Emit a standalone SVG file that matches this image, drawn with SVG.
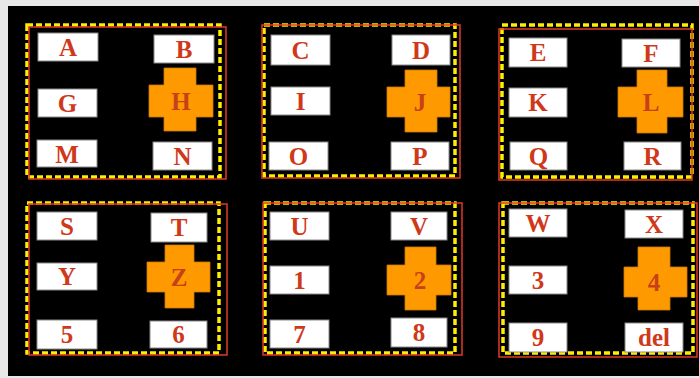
<svg xmlns="http://www.w3.org/2000/svg" width="699" height="378" viewBox="0 0 699 378">
<style>
.key{fill:#ffffff;stroke:#8a8a8a;stroke-width:1}
.cross{fill:#ff9900;stroke:#d07800;stroke-width:0.8}
.lbl{font-family:"Liberation Serif","Times New Roman",serif;font-weight:bold;font-size:25px;fill:#d0381a;text-anchor:middle}
.cl{fill:#c8401a}
.yel{fill:none;stroke:#ffee00;stroke-width:3.5;stroke-dasharray:6 3}
.red{fill:none;stroke:#e03a28;stroke-width:1.5}
</style>
<rect x="0" y="0" width="699" height="378" fill="#e8e8e8"/>
<rect x="8" y="6" width="691" height="370" fill="#000000"/>

<g id="panel1">
<rect class="yel" x="27" y="25" width="193" height="152"/>
<rect class="red" x="29" y="27" width="197" height="152"/>
<g id="key-A"><rect class="key" x="38" y="33" width="60" height="28"/><text class="lbl" x="68" y="56">A</text></g>
<g id="key-B"><rect class="key" x="154" y="35" width="60" height="28"/><text class="lbl" x="184" y="58">B</text></g>
<g id="key-G"><rect class="key" x="38" y="89" width="59" height="28"/><text class="lbl" x="67.5" y="112">G</text></g>
<g id="key-H"><path class="cross" d="M164,68 H196 V85 H213 V117 H196 V131 H164 V117 H149 V85 H164 Z"/><text class="lbl cl" x="181" y="109.5">H</text></g>
<g id="key-M"><rect class="key" x="37" y="140" width="60" height="27"/><text class="lbl" x="67" y="162.5">M</text></g>
<g id="key-N"><rect class="key" x="153" y="142" width="59" height="28"/><text class="lbl" x="182.5" y="165">N</text></g>
</g>

<g id="panel2">
<rect class="yel" x="264" y="25" width="191" height="151"/>
<rect class="red" x="262" y="25" width="198" height="153"/>
<g id="key-C"><rect class="key" x="271" y="35" width="59" height="30"/><text class="lbl" x="300.5" y="58.5">C</text></g>
<g id="key-D"><rect class="key" x="392" y="35" width="58" height="30"/><text class="lbl" x="421" y="58.5">D</text></g>
<g id="key-I"><rect class="key" x="271" y="87" width="59" height="28"/><text class="lbl" x="300.5" y="109.5">I</text></g>
<g id="key-J"><path class="cross" d="M405,70 H437 V87 H450 V117 H437 V132 H405 V117 H387 V87 H405 Z"/><text class="lbl cl" x="420" y="110.5">J</text></g>
<g id="key-O"><rect class="key" x="269" y="142" width="59" height="28"/><text class="lbl" x="298.5" y="164.5">O</text></g>
<g id="key-P"><rect class="key" x="391" y="142" width="58" height="28"/><text class="lbl" x="420" y="164.5">P</text></g>
</g>

<g id="panel3">
<rect class="yel" x="502" y="25" width="190" height="152"/>
<rect class="red" x="499" y="29" width="193" height="151"/>
<g id="key-E"><rect class="key" x="509" y="38" width="58" height="29"/><text class="lbl" x="538" y="61">E</text></g>
<g id="key-F"><rect class="key" x="622" y="39" width="58" height="28"/><text class="lbl" x="651" y="61.5">F</text></g>
<g id="key-K"><rect class="key" x="509" y="88" width="58" height="29"/><text class="lbl" x="538" y="111">K</text></g>
<g id="key-L"><path class="cross" d="M637,70 H667 V87 H683 V117 H667 V133 H637 V117 H618 V87 H637 Z"/><text class="lbl cl" x="651" y="110.5">L</text></g>
<g id="key-Q"><rect class="key" x="510" y="142" width="57" height="28"/><text class="lbl" x="538.5" y="164.5">Q</text></g>
<g id="key-R"><rect class="key" x="624" y="142" width="57" height="28"/><text class="lbl" x="652.5" y="164.5">R</text></g>
</g>

<g id="panel4">
<rect class="yel" x="27" y="203" width="192" height="150"/>
<rect class="red" x="29" y="204" width="198" height="151"/>
<g id="key-S"><rect class="key" x="37" y="212" width="60" height="28"/><text class="lbl" x="67" y="234.5">S</text></g>
<g id="key-T"><rect class="key" x="151" y="213" width="56" height="29"/><text class="lbl" x="179" y="236">T</text></g>
<g id="key-Y"><rect class="key" x="37" y="263" width="60" height="27"/><text class="lbl" x="67" y="285">Y</text></g>
<g id="key-Z"><path class="cross" d="M165,245 H194 V262 H210 V292 H194 V308 H165 V292 H147 V262 H165 Z"/><text class="lbl cl" x="179" y="285.5">Z</text></g>
<g id="key-5"><rect class="key" x="37" y="320" width="60" height="29"/><text class="lbl" x="67" y="343">5</text></g>
<g id="key-6"><rect class="key" x="150" y="321" width="57" height="27"/><text class="lbl" x="178.5" y="343">6</text></g>
</g>

<g id="panel5">
<rect class="yel" x="265" y="203" width="190" height="150"/>
<rect class="red" x="263" y="203" width="199" height="152"/>
<g id="key-U"><rect class="key" x="270" y="212" width="59" height="28"/><text class="lbl" x="299.5" y="234.5">U</text></g>
<g id="key-V"><rect class="key" x="391" y="212" width="56" height="28"/><text class="lbl" x="419" y="234.5">V</text></g>
<g id="key-1"><rect class="key" x="270" y="266" width="59" height="28"/><text class="lbl" x="299.5" y="288.5">1</text></g>
<g id="key-2"><path class="cross" d="M405,247 H436 V265 H451 V295 H436 V310 H405 V295 H387 V265 H405 Z"/><text class="lbl cl" x="420" y="288.5">2</text></g>
<g id="key-7"><rect class="key" x="270" y="320" width="59" height="28"/><text class="lbl" x="299.5" y="342.5">7</text></g>
<g id="key-8"><rect class="key" x="391" y="318" width="56" height="29"/><text class="lbl" x="419" y="341">8</text></g>
</g>

<g id="panel6">
<rect class="yel" x="503" y="203" width="190" height="150"/>
<rect class="red" x="499" y="203" width="198" height="154"/>
<g id="key-W"><rect class="key" x="509" y="209" width="58" height="28"/><text class="lbl" x="538" y="231.5">W</text></g>
<g id="key-X"><rect class="key" x="625" y="210" width="58" height="28"/><text class="lbl" x="654" y="232.5">X</text></g>
<g id="key-3"><rect class="key" x="509" y="266" width="58" height="28"/><text class="lbl" x="538" y="288.5">3</text></g>
<g id="key-4"><path class="cross" d="M638,247 H670 V267 H687 V297 H670 V310 H638 V297 H624 V267 H638 Z"/><text class="lbl cl" x="654" y="290.5">4</text></g>
<g id="key-9"><rect class="key" x="509" y="323" width="58" height="29"/><text class="lbl" x="538" y="346">9</text></g>
<g id="key-del"><rect class="key" x="625" y="323" width="58" height="29"/><text class="lbl" x="654" y="346">del</text></g>
</g>
</svg>
